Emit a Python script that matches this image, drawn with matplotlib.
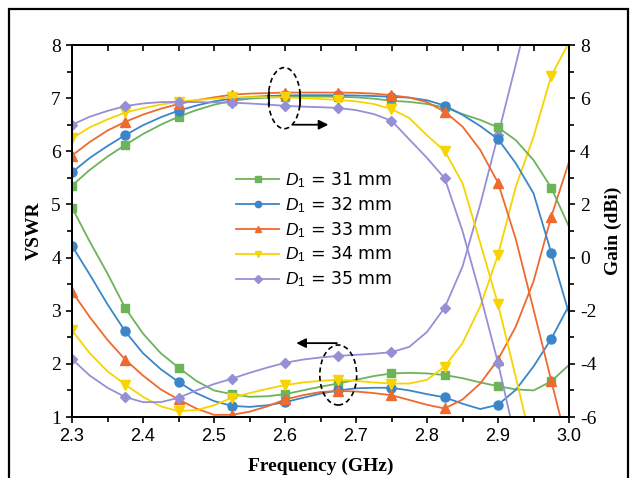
import numpy as np
import matplotlib
matplotlib.use('Agg')
import matplotlib.pyplot as plt
from matplotlib.patches import Ellipse, Rectangle
from matplotlib.ticker import MultipleLocator, FormatStrFormatter

plt.rcParams['axes.unicode_minus'] = False
plt.rcParams['mathtext.fontset'] = 'custom'
plt.rcParams['mathtext.it'] = 'Liberation Sans:italic'
plt.rcParams['mathtext.rm'] = 'Liberation Sans'

# frequency grid (GHz)
freq = np.round(np.arange(2.3, 3.0001, 0.025), 3)

# VSWR curves (left axis)
vswr_31 = [4.94, 4.3, 3.7, 3.05, 2.57, 2.2, 1.93, 1.68, 1.5, 1.43, 1.38, 1.39, 1.43, 1.5, 1.57,
           1.63, 1.7, 1.77, 1.82, 1.83, 1.82, 1.79, 1.73, 1.65, 1.58, 1.52, 1.5, 1.67, 1.98]
vswr_32 = [4.22, 3.68, 3.12, 2.61, 2.2, 1.9, 1.66, 1.45, 1.3, 1.21, 1.19, 1.22, 1.28, 1.36, 1.44,
           1.5, 1.54, 1.55, 1.55, 1.5, 1.43, 1.37, 1.25, 1.15, 1.23, 1.51, 1.95, 2.47, 3.1]
vswr_33 = [3.36, 2.88, 2.45, 2.08, 1.78, 1.52, 1.33, 1.16, 1.04, 1.04, 1.1, 1.2, 1.33, 1.41, 1.47,
           1.49, 1.48, 1.45, 1.41, 1.32, 1.23, 1.16, 1.33, 1.63, 2.08, 2.7, 3.55, 4.77, 5.8]
vswr_34 = [2.63, 2.2, 1.86, 1.61, 1.38, 1.2, 1.11, 1.13, 1.22, 1.36, 1.45, 1.53, 1.6, 1.65, 1.68,
           1.7, 1.68, 1.65, 1.63, 1.63, 1.7, 1.95, 2.39, 3.08, 4.05, 5.33, 6.27, 7.42, 8.05]
vswr_35 = [2.09, 1.78, 1.55, 1.375, 1.28, 1.28, 1.36, 1.5, 1.62, 1.72, 1.83, 1.93, 2.02, 2.08, 2.12,
           2.15, 2.17, 2.19, 2.22, 2.32, 2.6, 3.06, 3.83, 5.0, 6.3, 7.63, 9.0, np.nan, np.nan]

# gain curves (right axis, dBi)
gain_31 = [2.71, 3.3, 3.8, 4.24, 4.65, 5.0, 5.3, 5.55, 5.75, 5.9, 5.98, 6.02, 6.05, 6.06, 6.06,
           6.05, 6.03, 5.98, 5.9, 5.86, 5.78, 5.65, 5.4, 5.18, 4.9, 4.42, 3.67, 2.63, 1.16]
gain_32 = [3.21, 3.75, 4.2, 4.61, 4.98, 5.28, 5.53, 5.72, 5.88, 5.98, 6.04, 6.08, 6.1, 6.11, 6.11,
           6.11, 6.1, 6.08, 6.05, 6.02, 5.92, 5.72, 5.37, 4.95, 4.46, 3.55, 2.42, 0.18, -2.1]
gain_33 = [3.84, 4.35, 4.78, 5.11, 5.38, 5.6, 5.78, 5.92, 6.03, 6.13, 6.17, 6.19, 6.21, 6.21, 6.21,
           6.21, 6.2, 6.17, 6.11, 6.02, 5.85, 5.49, 4.93, 4.05, 2.82, 0.7, -1.95, -4.63, -7.3]
gain_34 = [4.49, 4.9, 5.2, 5.46, 5.62, 5.76, 5.86, 5.93, 5.98, 6.03, 6.04, 6.04, 6.03, 6.0, 5.97,
           5.93, 5.88, 5.78, 5.59, 5.25, 4.6, 4.01, 2.8, 0.55, -1.75, -4.5, -7.3, np.nan, np.nan]
gain_35 = [5.0, 5.3, 5.52, 5.7, 5.8, 5.85, 5.86, 5.85, 5.84, 5.83, 5.8, 5.76, 5.71, 5.68, 5.66,
           5.63, 5.55, 5.4, 5.15, 4.45, 3.75, 2.98, 1.0, -1.4, -3.96, -6.9, np.nan, np.nan, np.nan]

labels = [r'$D_\mathit{1}$ = 31 mm', r'$D_\mathit{1}$ = 32 mm', r'$D_\mathit{1}$ = 33 mm',
          r'$D_\mathit{1}$ = 34 mm', r'$D_\mathit{1}$ = 35 mm']
vswr_all = [vswr_31, vswr_32, vswr_33, vswr_34, vswr_35]
gain_all = [gain_31, gain_32, gain_33, gain_34, gain_35]
colors = ['#6cb35a', '#3a86c8', '#ee6a2e', '#f7d400', '#9590d6']
markers = ['s', 'o', '^', 'v', 'D']
msizes = [5.5, 6.5, 6.5, 6.5, 5.5]

serif = 'Liberation Serif'
narrow = ['Liberation Sans Narrow', 'Liberation Sans']

fig = plt.figure(figsize=(6.36, 4.78), dpi=100)
ax = fig.add_axes([72 / 636, 1 - 417 / 478, 497 / 636, 372 / 478])
ax2 = ax.twinx()

for v, c, m, s in zip(vswr_all, colors, markers, msizes):
    ax.plot(freq, v, color=c, lw=1.3, marker=m, ms=s, markevery=3)
for g, c, m, s, lab in zip(gain_all, colors, markers, msizes, labels):
    ax2.plot(freq, g, color=c, lw=1.3, marker=m, ms=s, markevery=3, label=lab)

ax.set_xlim(2.3, 3.0)
ax.set_ylim(1, 8)
ax2.set_ylim(-6, 8)

ax.xaxis.set_major_locator(MultipleLocator(0.1))
ax.xaxis.set_minor_locator(MultipleLocator(0.05))
ax.xaxis.set_major_formatter(FormatStrFormatter('%.1f'))
ax.yaxis.set_major_locator(MultipleLocator(1))
ax.yaxis.set_minor_locator(MultipleLocator(0.5))
ax2.yaxis.set_major_locator(MultipleLocator(2))
ax2.yaxis.set_minor_locator(MultipleLocator(1))

ax.tick_params(axis='both', which='both', direction='out', width=1.2)
ax.tick_params(which='major', length=4.5)
ax.tick_params(which='minor', length=3.5)
ax2.tick_params(axis='y', which='both', direction='out', width=1.2)
ax2.tick_params(which='major', length=4.5)
ax2.tick_params(which='minor', length=3.5)

# top axis: ticks pointing inwards, no labels
top = ax.secondary_xaxis('top')
top.xaxis.set_major_locator(MultipleLocator(0.1))
top.xaxis.set_minor_locator(MultipleLocator(0.05))
top.tick_params(which='both', direction='in', length=4.5, width=1.2, labeltop=False)

for lab in ax.get_xticklabels():
    lab.set_family(narrow)
    lab.set_fontsize(13)
for lab in ax.get_yticklabels() + ax2.get_yticklabels():
    lab.set_family(serif)
    lab.set_fontsize(14)

for a in [ax, ax2]:
    for sp in a.spines.values():
        sp.set_linewidth(1.4)
top.spines['top'].set_linewidth(1.4)

ax.set_xlabel('Frequency (GHz)', family=serif, fontweight='bold', fontsize=14, labelpad=9)
ax.set_ylabel('VSWR', family=serif, fontweight='bold', fontsize=14, labelpad=6)
ax2.set_ylabel('Gain (dBi)', family=serif, fontweight='bold', fontsize=14, labelpad=6)

# legend in the middle
ax2.legend(loc='upper left', bbox_to_anchor=(236 / 636, 1 - 170 / 478),
           bbox_transform=fig.transFigure, frameon=False, fontsize=12.5,
           handlelength=2.5, handletextpad=0.3, labelspacing=0.3,
           borderpad=0, borderaxespad=0, markerscale=0.7)

# dashed ellipses with arrows
e1 = Ellipse((2.599, 6.0), 0.045, 2.3, fill=False, ls=(0, (3, 2)), lw=1.2, color='black', zorder=5)
ax2.add_patch(e1)
ax2.plot([2.577, 2.577], [5.75, 6.25], color='black', lw=1.3)
ax2.plot([2.621, 2.621], [5.75, 6.25], color='black', lw=1.3)
ax2.annotate('', xy=(2.665, 5.0), xytext=(2.608, 5.0),
             arrowprops=dict(arrowstyle='-|>', color='black', lw=1.3, mutation_scale=14))

e2 = Ellipse((2.675, 1.79), 0.052, 1.13, fill=False, ls=(0, (3, 2)), lw=1.2, color='black', zorder=5)
ax.add_patch(e2)
ax.annotate('', xy=(2.612, 2.39), xytext=(2.677, 2.39),
            arrowprops=dict(arrowstyle='-|>', color='black', lw=1.3, mutation_scale=14))

# outer frame of the picture
fig.patches.append(Rectangle((9 / 636, -0.1), 619 / 636, 1.1 - 9 / 478, transform=fig.transFigure,
                             fill=False, lw=1.6, edgecolor='black'))

fig.savefig('out.png', dpi=100)
